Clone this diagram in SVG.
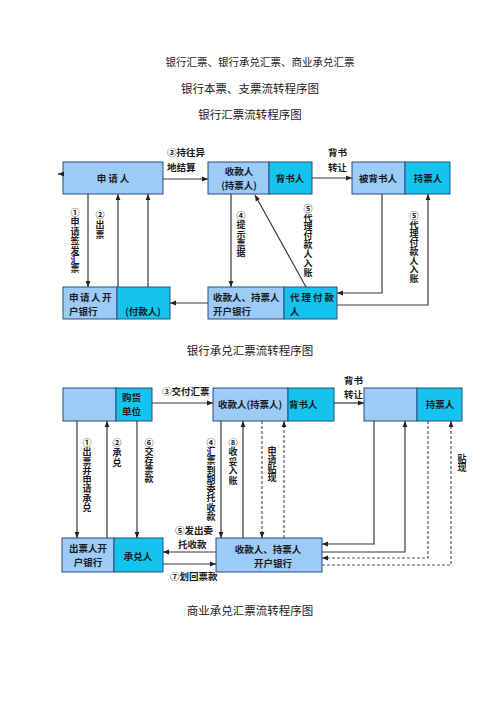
<svg xmlns="http://www.w3.org/2000/svg" width="500" height="707" viewBox="0 0 500 707">
<style>
.t{font-family:"Noto Sans CJK SC","Noto Sans",sans-serif;fill:#1a1a1a}
.title{font-size:11.5px;text-anchor:middle}
.b{font-size:9.5px;font-weight:bold}
.l{font-size:9.5px;font-weight:bold}
.v{writing-mode:vertical-rl;text-orientation:upright;font-size:9px;font-weight:bold}
.lt{fill:#9ccbf7;stroke:#2a4d7a;stroke-width:1}
.cy{fill:#14c3ee;stroke:#2a4d7a;stroke-width:1}
.c{fill:none;stroke:#3a3a3a;stroke-width:1.2}
.d{fill:none;stroke:#555;stroke-width:1.2;stroke-dasharray:3,2}
</style>
<defs>
<marker id="ah" viewBox="0 0 10 10" refX="10" refY="5" markerUnits="userSpaceOnUse" markerWidth="6" markerHeight="6" orient="auto">
<path d="M0,1 L10,5 L0,9 z" fill="#222"/>
</marker>
</defs>
<rect width="500" height="707" fill="#fff"/>

<g id="titles" class="t">
<text class="title" x="260" y="66" style="font-size:10.5px">银行汇票、银行承兑汇票、商业承兑汇票</text>
<text class="title" x="250" y="93">银行本票、支票流转程序图</text>
<text class="title" x="250" y="119">银行汇票流转程序图</text>
<text class="title" x="250" y="355">银行承兑汇票流转程序图</text>
<text class="title" x="250" y="615">商业承兑汇票流转程序图</text>
</g>

<!-- Diagram 1 nodes -->
<g id="n1-applicant">
<rect class="lt" x="63" y="162" width="100" height="32"/>
<text class="t b" x="114" y="182" text-anchor="middle" letter-spacing="2">申请人</text>
</g>
<g id="n1-payee">
<rect class="lt" x="208" y="162" width="61" height="32"/>
<rect class="cy" x="269" y="162" width="43" height="32"/>
<text class="t b" x="239" y="175" text-anchor="middle">收款人</text>
<text class="t b" x="239" y="189" text-anchor="middle">(持票人)</text>
<text class="t b" x="290" y="182" text-anchor="middle">背书人</text>
</g>
<g id="n1-endorsee">
<rect class="lt" x="352" y="162" width="53" height="32"/>
<rect class="cy" x="405" y="162" width="45" height="32"/>
<text class="t b" x="378" y="182" text-anchor="middle">被背书人</text>
<text class="t b" x="428" y="182" text-anchor="middle">持票人</text>
</g>
<g id="n1-appbank">
<rect class="lt" x="63" y="287" width="54" height="32"/>
<rect class="cy" x="117" y="287" width="53" height="32"/>
<text class="t b" x="69" y="301" letter-spacing="1.5">申请人开</text>
<text class="t b" x="69" y="315">户银行</text>
<text class="t b" x="143" y="315" text-anchor="middle">(付款人)</text>
</g>
<g id="n1-payeebank">
<rect class="lt" x="208" y="287" width="76" height="32"/>
<rect class="cy" x="284" y="287" width="53" height="32"/>
<text class="t b" x="213" y="301">收款人、持票人</text>
<text class="t b" x="213" y="315">开户银行</text>
<text class="t b" x="290" y="301" letter-spacing="2">代理付款</text>
<text class="t b" x="290" y="315">人</text>
</g>

<!-- Diagram 2 nodes -->
<g id="n2-buyer">
<rect class="lt" x="63" y="388" width="53" height="33"/>
<rect class="cy" x="116" y="388" width="36" height="33"/>
<text class="t b" x="122" y="401">购货</text>
<text class="t b" x="122" y="415">单位</text>
</g>
<g id="n2-payee">
<rect class="lt" x="213" y="388" width="75" height="33"/>
<rect class="cy" x="288" y="388" width="46" height="33"/>
<text class="t b" x="250" y="408" text-anchor="middle">收款人(持票人)</text>
<text class="t b" x="289" y="408">背书人</text>
</g>
<g id="n2-holder">
<rect class="lt" x="364" y="388" width="53" height="33"/>
<rect class="cy" x="417" y="388" width="45" height="33"/>
<text class="t b" x="440" y="408" text-anchor="middle">持票人</text>
</g>
<g id="n2-drawerbank">
<rect class="lt" x="62" y="538" width="52" height="34"/>
<rect class="cy" x="114" y="538" width="49" height="34"/>
<text class="t b" x="88" y="552" text-anchor="middle">出票人开</text>
<text class="t b" x="88" y="566" text-anchor="middle">户银行</text>
<text class="t b" x="138" y="560" text-anchor="middle">承兑人</text>
</g>
<g id="n2-payeebank">
<rect class="lt" x="216" y="538" width="106" height="34"/>
<text class="t b" x="268" y="553" text-anchor="middle">收款人、持票人</text>
<text class="t b" x="273" y="567" text-anchor="middle">开户银行</text>
</g>

<!-- Connectors -->
<g id="connectors">
<!-- diagram 1 -->
<line class="c" x1="63" y1="174" x2="58" y2="174" marker-end="url(#ah)"/>
<line class="c" x1="163" y1="179" x2="208" y2="179" marker-end="url(#ah)"/>
<line class="c" x1="312" y1="178" x2="352" y2="178" marker-end="url(#ah)"/>
<line class="c" x1="88" y1="194" x2="88" y2="287" marker-end="url(#ah)"/>
<line class="c" x1="118" y1="287" x2="118" y2="194" marker-end="url(#ah)"/>
<line class="c" x1="148" y1="287" x2="148" y2="194" marker-end="url(#ah)"/>
<line class="c" x1="231" y1="194" x2="231" y2="287" marker-end="url(#ah)"/>
<line class="c" x1="306" y1="287" x2="255" y2="195" marker-end="url(#ah)"/>
<polyline class="c" points="382,194 382,293 337,293" marker-end="url(#ah)"/>
<polyline class="c" points="337,305 428,305 428,194" marker-end="url(#ah)"/>
<line class="c" x1="208" y1="303" x2="170" y2="303" marker-end="url(#ah)"/>
<!-- diagram 2 -->
<line class="c" x1="152" y1="403" x2="213" y2="403" marker-end="url(#ah)"/>
<line class="c" x1="334" y1="403" x2="364" y2="403" marker-end="url(#ah)"/>
<line class="c" x1="77" y1="421" x2="77" y2="538" marker-end="url(#ah)"/>
<line class="c" x1="107" y1="538" x2="107" y2="421" marker-end="url(#ah)"/>
<line class="c" x1="137" y1="421" x2="137" y2="538" marker-end="url(#ah)"/>
<line class="c" x1="221" y1="421" x2="221" y2="538" marker-end="url(#ah)"/>
<line class="c" x1="243" y1="538" x2="243" y2="421" marker-end="url(#ah)"/>
<line class="d" x1="262" y1="421" x2="262" y2="538" marker-end="url(#ah)"/>
<line class="d" x1="284" y1="538" x2="284" y2="421" marker-end="url(#ah)"/>
<line class="c" x1="216" y1="552" x2="163" y2="552" marker-end="url(#ah)"/>
<line class="c" x1="163" y1="564" x2="216" y2="564" marker-end="url(#ah)"/>
<polyline class="c" points="374,421 374,544 322,544" marker-end="url(#ah)"/>
<polyline class="c" points="322,552 405,552 405,421" marker-end="url(#ah)"/>
<polyline class="d" points="428,421 428,558 322,558" marker-end="url(#ah)"/>
<polyline class="d" points="322,565 451,565 451,421" marker-end="url(#ah)"/>
</g>

<!-- Labels -->
<g id="labels" class="t">
<text class="l" x="167" y="156">③持往异</text>
<text class="l" x="167" y="171">地结算</text>
<text class="l" x="328" y="156">背书</text>
<text class="l" x="328" y="171">转让</text>
<text class="v" x="75" y="208" letter-spacing="0.4">①申请签发汇票</text>
<text class="v" x="100" y="210" letter-spacing="1">②出票</text>
<text class="v" x="241" y="211" letter-spacing="0.3">④提示票据</text>
<text class="v" x="308" y="204" letter-spacing="0.1">⑤代理付款人入账</text>
<text class="v" x="414" y="211">⑤代理付款人入账</text>

<text class="l" x="162" y="395">③交付汇票</text>
<text class="l" x="344" y="384">背书</text>
<text class="l" x="344" y="398">转让</text>
<text class="l" x="175" y="534">⑤发出委</text>
<text class="l" x="178" y="548">托收款</text>
<text class="l" x="170" y="580">⑦划回票款</text>
<text class="v" x="87" y="438" letter-spacing="0.3">①出票并申请承兑</text>
<text class="v" x="117" y="438" letter-spacing="1">②承兑</text>
<text class="v" x="149" y="438">⑥交存票款</text>
<text class="v" x="211" y="438" letter-spacing="0.25">④汇票到期委托收款</text>
<text class="v" x="233" y="438" letter-spacing="0.5">⑧收妥入账</text>
<text class="v" x="272" y="446">申请贴现</text>
<text class="v" x="462" y="454" letter-spacing="0.5">贴现</text>
</g>
</svg>
